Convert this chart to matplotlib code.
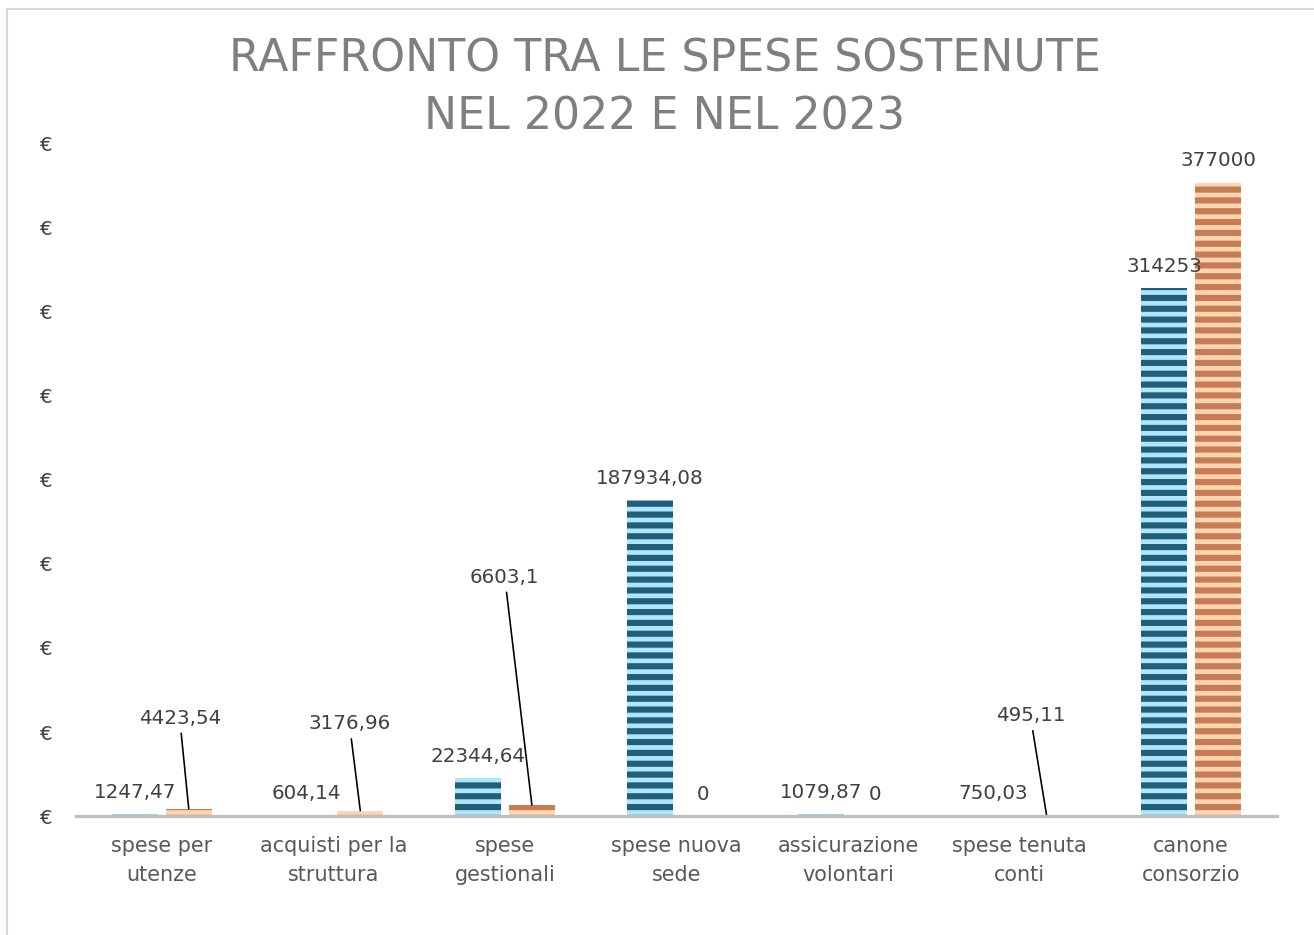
import numpy as np
import matplotlib.pyplot as plt
import matplotlib.ticker as mticker
from matplotlib.patches import Rectangle

# Data
categories = ['spese per\nutenze', 'acquisti per la\nstruttura', 'spese\ngestionali',
              'spese nuova\nsede', 'assicurazione\nvolontari', 'spese tenuta\nconti',
              'canone\nconsorzio']
spese_2022 = [1247.47, 604.14, 22344.64, 187934.08, 1079.87, 750.03, 314253]
spese_2023 = [4423.54, 3176.96, 6603.1, 0, 0, 495.11, 377000]

# label offsets (points) for the 2023 labels that sit on a leader line
leader_2023 = {0: (-5, 50), 1: (-6, 48), 2: (-15, 126), 5: (-9, 55)}

def fmt(v):
    s = f'{v:.2f}'.rstrip('0').rstrip('.')
    return s.replace('.', ',')

DPI = 130
plt.rcParams['hatch.linewidth'] = 3.4

fig = plt.figure(figsize=(1314 / DPI, 935 / DPI), dpi=DPI)
ax = fig.add_axes([76 / 1314, 1 - 816 / 935, 1201 / 1314, (816 - 144) / 935])

x = np.arange(len(categories))
w = 0.268
off = 0.157

b1 = ax.bar(x - off, spese_2022, w, color='#b0e6fb', edgecolor='#215e79',
            hatch='--', linewidth=0, zorder=2)
b2 = ax.bar(x + off, spese_2023, w, color='#fdd5b0', edgecolor='#c77c56',
            hatch='--', linewidth=0, zorder=2)

lab_kw = dict(textcoords='offset points', ha='center', va='center',
              fontsize=11, color='#404040', zorder=3)

for xi, v in zip(x - off, spese_2022):
    ax.annotate(fmt(v), (xi, v), xytext=(0, 12), **lab_kw)

for i, (xi, v) in enumerate(zip(x + off, spese_2023)):
    if i in leader_2023:
        ax.annotate(fmt(v), (xi, v), xytext=leader_2023[i],
                    arrowprops=dict(arrowstyle='-', color='black', lw=0.9,
                                    shrinkA=1, shrinkB=0),
                    **lab_kw)
    else:
        ax.annotate(fmt(v), (xi, v), xytext=(0, 12), **lab_kw)

ax.set_xlim(-0.5, len(categories) - 0.5)
ax.set_ylim(0, 400000)
ax.yaxis.set_major_locator(mticker.MultipleLocator(50000))
ax.yaxis.set_major_formatter(mticker.FuncFormatter(lambda v, _: '€'))

ax.set_xticks(x, labels=categories)
ax.tick_params(axis='x', length=0, pad=11, labelsize=11.5, labelcolor='#595959')
ax.tick_params(axis='y', length=0, pad=13, labelsize=11, labelcolor='#404040')
for lab in ax.get_xticklabels():
    lab.set_linespacing(1.55)

for s in ['top', 'right', 'left']:
    ax.spines[s].set_visible(False)
ax.spines['bottom'].set_color('#bfbfbf')
ax.spines['bottom'].set_linewidth(1.8)
ax.spines['bottom'].set_zorder(4)

fig.text(665 / 1314, 1 - 88 / 935, 'RAFFRONTO TRA LE SPESE SOSTENUTE\nNEL 2022 E NEL 2023',
         ha='center', va='center', fontsize=24.5, color='#7f7f7f', linespacing=1.42)

# chart border
fig.patches.append(Rectangle((7 / 1314, -0.1), 1.2, 1.1 - 9 / 935, transform=fig.transFigure,
                             fill=False, edgecolor='#d9d9d9', lw=1.2))

fig.savefig('out.png', dpi=DPI)
